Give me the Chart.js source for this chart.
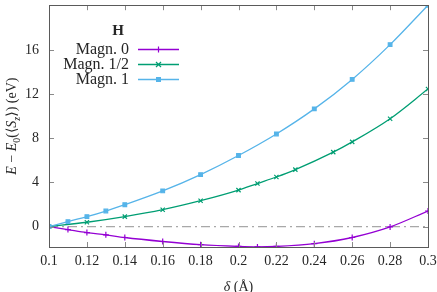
<!DOCTYPE html>
<html>
<head>
<meta charset="utf-8">
<title>H - magnetisation energies</title>
<script src="https://cdn.jsdelivr.net/npm/chart.js@4.4.0/dist/chart.umd.min.js"></script>
<style>
	html, body { margin: 0; padding: 0; background: #fff; }
</style>
</head>
<body>
<canvas id="canvas" width="437" height="292"></canvas>
<script type="text/javascript">

// values
var xMagn0 = [0.10, 0.11, 0.12, 0.13, 0.14, 0.16, 0.18, 0.20, 0.21, 0.22, 0.24, 0.26, 0.28, 0.30];
var yMagn0 = [0, -0.27, -0.54, -0.75, -0.99, -1.35, -1.64, -1.80, -1.84, -1.80, -1.55, -0.99, -0.03, 1.41];
var xMagnHalf = [0.10, 0.12, 0.14, 0.16, 0.18, 0.20, 0.21, 0.22, 0.23, 0.25, 0.26, 0.28, 0.30];
var yMagnHalf = [0, 0.39, 0.90, 1.53, 2.34, 3.30, 3.90, 4.49, 5.16, 6.74, 7.67, 9.77, 12.46];
var xMagn1 = [0.10, 0.11, 0.12, 0.13, 0.14, 0.16, 0.18, 0.20, 0.22, 0.24, 0.26, 0.28, 0.30];
var yMagn1 = [0, 0.45, 0.90, 1.41, 1.98, 3.23, 4.71, 6.44, 8.39, 10.66, 13.33, 16.48, 20.05];
var xZero = [0.10, 0.30];
var yZero = [0, 0];

var seriesNames = ['Magn. 0', 'Magn. 1/2', 'Magn. 1'];
var seriesColors = ['#9400d3', '#009e73', '#56b4e9'];
var seriesMarks = ['plus', 'cross', 'square'];
var legendTitle = 'H';

var xTicks = [0.10, 0.12, 0.14, 0.16, 0.18, 0.20, 0.22, 0.24, 0.26, 0.28, 0.30];
var yTicks = [0, 4, 8, 12, 16];
var xMin = 0.1, xMax = 0.3, yMin = -1.85, yMax = 20.05;

var FONT = '"Liberation Serif", "DejaVu Serif", serif';
var TEXT = '#262626';

function pts(xs, ys) {
	return xs.map(function(x, i) { return {x: x, y: ys[i]}; });
}

function mark(ctx, kind, x, y, color) {
	ctx.save();
	ctx.strokeStyle = color;
	ctx.fillStyle = color;
	ctx.lineWidth = 1.2;
	ctx.beginPath();
	if (kind == 'plus') {
		ctx.moveTo(x - 3, y); ctx.lineTo(x + 3, y);
		ctx.moveTo(x, y - 3); ctx.lineTo(x, y + 3);
		ctx.stroke();
	} else if (kind == 'cross') {
		ctx.moveTo(x - 2.5, y - 2.5); ctx.lineTo(x + 2.5, y + 2.5);
		ctx.moveTo(x - 2.5, y + 2.5); ctx.lineTo(x + 2.5, y - 2.5);
		ctx.stroke();
	} else {
		ctx.fillRect(x - 2.5, y - 2.5, 5, 5);
	}
	ctx.restore();
}

// text pieces: [string, style] where style is '', 'i' (italic) or 'sub'
function richText(ctx, parts, cx, cy, size) {
	function fontOf(st) {
		if (st == 'sub') return (size * 0.7) + 'px ' + FONT;
		if (st == 'subi') return 'italic ' + (size * 0.7) + 'px ' + FONT;
		if (st == 'i') return 'italic ' + size + 'px ' + FONT;
		return size + 'px ' + FONT;
	}
	var total = 0;
	parts.forEach(function(p) { ctx.font = fontOf(p[1]); total += ctx.measureText(p[0]).width; });
	var x = cx - total / 2;
	ctx.textBaseline = 'alphabetic';
	ctx.textAlign = 'left';
	parts.forEach(function(p) {
		ctx.font = fontOf(p[1]);
		var dy = (p[1] == 'sub' || p[1] == 'subi') ? size * 0.25 : 0;
		ctx.fillText(p[0], x, cy + dy);
		x += ctx.measureText(p[0]).width;
	});
}

var decorPlugin = {
	id: 'decor',
	afterDraw: function(chart) {
		var ctx = chart.ctx;
		var a = chart.chartArea;
		var xs = chart.scales.x, ys = chart.scales.y;
		ctx.save();
		// inward ticks, mirrored
		ctx.strokeStyle = '#8a8a8a';
		ctx.lineWidth = 1;
		ctx.beginPath();
		xTicks.forEach(function(v) {
			var px = Math.round(xs.getPixelForValue(v)) + 0.5;
			ctx.moveTo(px, a.bottom); ctx.lineTo(px, a.bottom - 5);
			ctx.moveTo(px, a.top); ctx.lineTo(px, a.top + 5);
		});
		yTicks.forEach(function(v) {
			var py = Math.round(ys.getPixelForValue(v)) + 0.5;
			ctx.moveTo(a.left, py); ctx.lineTo(a.left + 5, py);
			ctx.moveTo(a.right, py); ctx.lineTo(a.right - 5, py);
		});
		ctx.stroke();
		// frame
		ctx.strokeStyle = '#5a5a5a';
		ctx.strokeRect(Math.round(a.left) + 0.5, Math.round(a.top) + 0.5,
			Math.round(a.right - a.left), Math.round(a.bottom - a.top));

		// legend
		ctx.fillStyle = TEXT;
		ctx.font = 'bold 15px ' + FONT;
		ctx.textAlign = 'center';
		ctx.textBaseline = 'middle';
		ctx.fillText(legendTitle, 118, 31);
		ctx.font = '16px ' + FONT;
		ctx.textAlign = 'right';
		seriesNames.forEach(function(name, i) {
			var ly = 49 + i * 15;
			ctx.fillStyle = TEXT;
			ctx.fillText(name, 129, ly + 1);
			ctx.strokeStyle = seriesColors[i];
			ctx.lineWidth = 1.3;
			ctx.beginPath();
			ctx.moveTo(138, ly + 0.5); ctx.lineTo(179, ly + 0.5);
			ctx.stroke();
			mark(ctx, seriesMarks[i], 158.5, ly + 0.5, seriesColors[i]);
		});

		// axis titles
		ctx.fillStyle = TEXT;
		ctx.save();
		ctx.translate(16, (a.top + a.bottom) / 2);
		ctx.rotate(-Math.PI / 2);
		richText(ctx, [['E', 'i'], [' \u2212 ', ''], ['E', 'i'], ['0', 'sub'], ['(\u27e8', ''], ['S', 'i'], ['z', 'subi'], ['\u27e9) (eV)', '']], 0, 0, 14);
		ctx.restore();
		richText(ctx, [['\u03b4', 'i'], [' (\u00c5)', '']], (a.left + a.right) / 2, 291, 14);
		ctx.restore();
	}
};

function drawPointStyle(kind) {
	if (kind == 'plus') return 'cross';
	if (kind == 'cross') return 'crossRot';
	return 'rect';
}

var sets = [[xMagn0, yMagn0], [xMagnHalf, yMagnHalf], [xMagn1, yMagn1]];
var datasets = sets.map(function(s, i) {
	return {
		label: seriesNames[i],
		data: pts(s[0], s[1]),
		borderColor: seriesColors[i],
		backgroundColor: seriesColors[i],
		borderWidth: 1.3,
		pointStyle: drawPointStyle(seriesMarks[i]),
		pointRadius: seriesMarks[i] == 'square' ? 2.6 : 3,
		pointBorderWidth: 1.2,
		cubicInterpolationMode: 'monotone',
		order: 2 - i
	};
});
datasets.push({
	label: 'zero',
	data: pts(xZero, yZero),
	borderColor: '#a8a8a8',
	borderWidth: 1.2,
	borderDash: [9, 4, 2, 4],
	pointRadius: 0,
	order: 10
});

new Chart(document.getElementById('canvas').getContext('2d'), {
	type: 'line',
	data: { datasets: datasets },
	plugins: [decorPlugin],
	options: {
		responsive: false,
		animation: false,
		devicePixelRatio: 1,
		layout: { padding: { top: 2, right: 9, left: 0, bottom: 0 } },
		plugins: { legend: { display: false }, tooltip: { enabled: false } },
		scales: {
			x: {
				type: 'linear', min: xMin, max: xMax,
				grid: { display: false, drawTicks: false },
				border: { display: false },
				ticks: {
					autoSkip: false, maxRotation: 0, padding: 6, color: TEXT,
					font: { family: FONT, size: 14 },
					callback: function(v) { return String(Math.round(v * 100) / 100); }
				},
				afterBuildTicks: function(s) { s.ticks = xTicks.map(function(v) { return {value: v}; }); },
				afterFit: function(s) { s.height = 45; s.paddingLeft = 0; s.paddingRight = 0; }
			},
			y: {
				type: 'linear', min: yMin, max: yMax,
				grid: { display: false, drawTicks: false },
				border: { display: false },
				ticks: {
					autoSkip: false, padding: 10, color: TEXT,
					font: { family: FONT, size: 14 }
				},
				afterBuildTicks: function(s) { s.ticks = yTicks.map(function(v) { return {value: v}; }); },
				afterFit: function(s) { s.width = 49; s.paddingTop = 0; s.paddingBottom = 0; }
			}
		}
	}
});
</script>
</body>
</html>
